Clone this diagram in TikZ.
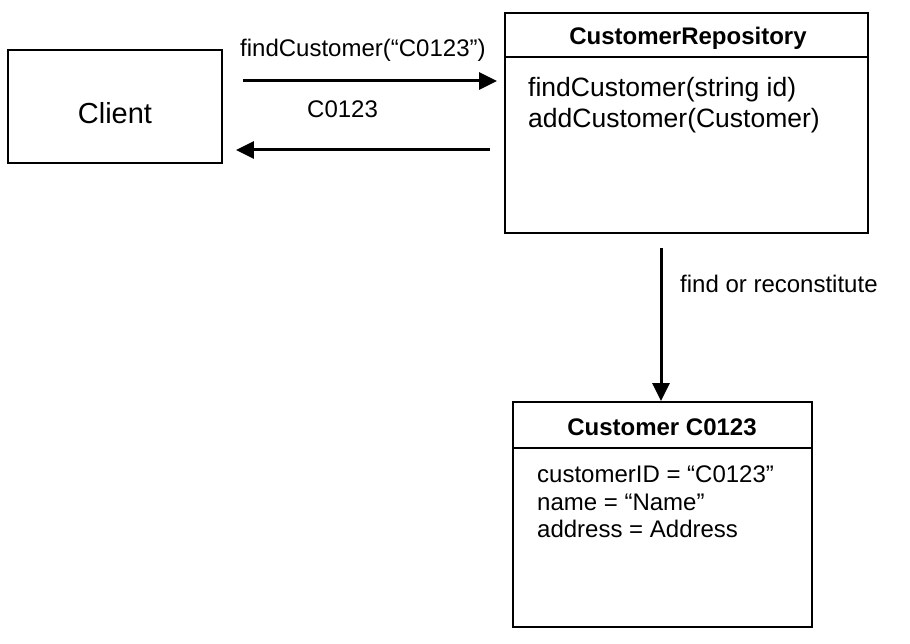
\documentclass[tikz,border=0pt]{standalone}
\usepackage{fontspec}
\setmainfont{Liberation Sans}
\usetikzlibrary{arrows.meta}
\tikzset{
  box/.style={draw=black, line width=1.8pt, fill=none, inner sep=0pt},
  divider/.style={draw=black, line width=1.8pt},
  conn/.style={draw=black, line width=3pt, -{Triangle[length=18pt,width=17pt]}},
  txt/.style={anchor=base west, inner sep=0pt, font=\fontsize{24}{28}\selectfont},
  mtxt/.style={anchor=base west, inner sep=0pt, font=\fontsize{26.5}{31}\selectfont},
  ttl/.style={anchor=base, inner sep=0pt, font=\bfseries\fontsize{24}{28}\selectfont},
}
\begin{document}
\begin{tikzpicture}[x=1pt,y=-1pt]
\useasboundingbox (0,0) rectangle (910,644);
% Client
\node[box, minimum width=214pt, minimum height=113pt] (client) at (115,106.5) {};
\node[anchor=base, inner sep=0pt, font=\fontsize{29}{33}\selectfont] (clientlbl) at (115,124) {Client};
% Repository
\node[box, minimum width=363pt, minimum height=220pt] (repo) at (686.5,123) {};
\coordinate (rdl) at (505,57);
\coordinate (rdr) at (868,57);
\draw[divider] (rdl) -- (rdr);
\node[ttl] (repotitle) at (688,45) {CustomerRepository};
\node[mtxt] (m1) at (528,97) {findCustomer(string id)};
\node[mtxt] (m2) at (528,128) {addCustomer(Customer)};
% Customer
\node[box, minimum width=299pt, minimum height=225pt] (cust) at (662.5,514.5) {};
\coordinate (cdl) at (513,448);
\coordinate (cdr) at (812,448);
\draw[divider] (cdl) -- (cdr);
\node[ttl] (custtitle) at (662,435) {Customer C0123};
\node[txt] (a1) at (537,482) {customerID = “C0123”};
\node[txt] (a2) at (537,510) {name = “Name”};
\node[txt] (a3) at (537,537) {address = Address};
% Connectors
\coordinate (s1) at (243,81);
\coordinate (e1) at (repo.west |- s1);
\draw[conn, shorten >=7pt] (s1) -- (e1);
\node[txt] (l1) at (240,57) {findCustomer(“C0123”)};
\coordinate (s2) at (490,150);
\coordinate (e2) at (client.east |- s2);
\draw[conn, shorten >=13pt] (s2) -- (e2);
\node[txt] (l2) at (307,118) {C0123};
\coordinate (s3) at (661,248);
\coordinate (e3) at (s3 |- cust.north);
\draw[conn] (s3) -- (e3);
\node[txt] (l3) at (680,293) {find or reconstitute};
\end{tikzpicture}
\end{document}
